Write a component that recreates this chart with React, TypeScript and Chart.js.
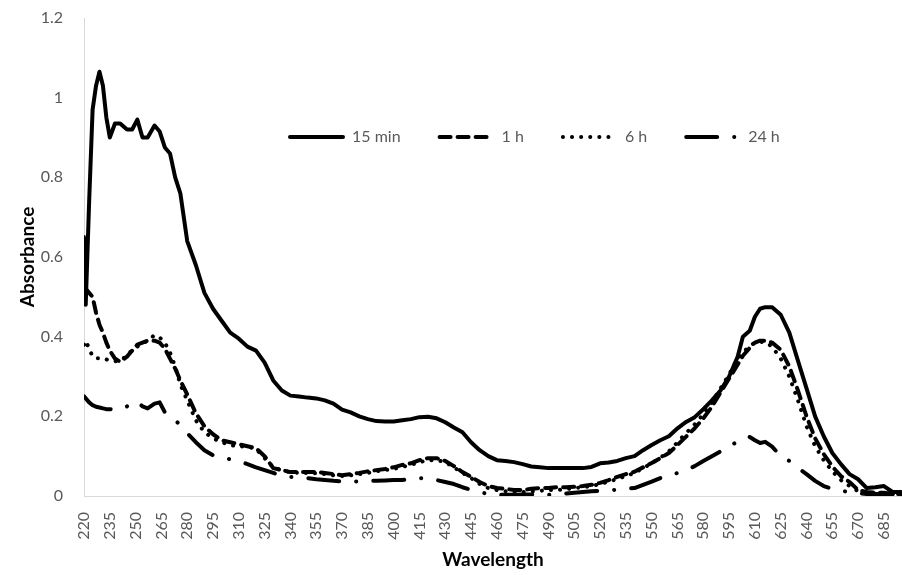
import React, { useEffect, useRef } from 'react';
import { Chart, registerables } from 'chart.js';

Chart.register(...registerables);

// Wavelength (nm) sample points
const wavelengths = [
  220, 221, 223, 225, 227, 229, 231, 233, 235, 238,
  241, 245, 248, 251, 254, 257, 261, 264, 267, 270,
  273, 276, 280, 285, 290, 295, 300, 305, 310, 315,
  320, 325, 330, 335, 340, 345, 350, 355, 360, 365,
  370, 375, 380, 385, 390, 395, 400, 405, 410, 415,
  420, 425, 430, 435, 440, 445, 450, 455, 460, 465,
  470, 475, 480, 485, 490, 495, 500, 505, 510, 515,
  520, 525, 530, 535, 540, 545, 550, 555, 560, 565,
  570, 575, 580, 585, 590, 595, 600, 603, 607, 610,
  613, 616, 620, 625, 630, 635, 640, 645, 650, 655,
  660, 665, 670, 675, 680, 685, 690, 695,
];

const abs15min = [
  0.65, 0.48, 0.74, 0.97, 1.03, 1.065, 1.03, 0.95, 0.90, 0.935,
  0.935, 0.92, 0.92, 0.945, 0.90, 0.90, 0.93, 0.915, 0.875, 0.86,
  0.80, 0.76, 0.64, 0.58, 0.51, 0.47, 0.44, 0.41, 0.395, 0.375,
  0.365, 0.335, 0.29, 0.265, 0.252, 0.25, 0.247, 0.245, 0.24, 0.232,
  0.217, 0.21, 0.20, 0.193, 0.188, 0.187, 0.187, 0.19, 0.193, 0.198,
  0.199, 0.195, 0.185, 0.172, 0.16, 0.135, 0.115, 0.10, 0.09, 0.088,
  0.085, 0.08, 0.074, 0.072, 0.07, 0.07, 0.07, 0.07, 0.07, 0.073,
  0.082, 0.084, 0.088, 0.095, 0.10, 0.115, 0.128, 0.14, 0.15, 0.17,
  0.186, 0.198, 0.218, 0.24, 0.265, 0.30, 0.35, 0.40, 0.415, 0.45,
  0.47, 0.474, 0.474, 0.455, 0.41, 0.34, 0.27, 0.20, 0.15, 0.108,
  0.08, 0.055, 0.042, 0.02, 0.022, 0.025, 0.01, 0.01,
];

const abs1h = [
  0.57, 0.52, 0.51, 0.50, 0.46, 0.43, 0.41, 0.385, 0.365, 0.345,
  0.337, 0.35, 0.365, 0.38, 0.385, 0.39, 0.39, 0.385, 0.37, 0.345,
  0.32, 0.29, 0.255, 0.208, 0.175, 0.155, 0.14, 0.135, 0.13, 0.125,
  0.12, 0.10, 0.07, 0.065, 0.06, 0.06, 0.06, 0.06, 0.058, 0.055,
  0.052, 0.055, 0.058, 0.062, 0.065, 0.068, 0.072, 0.078, 0.082, 0.09,
  0.095, 0.095, 0.088, 0.075, 0.06, 0.048, 0.035, 0.025, 0.02, 0.018,
  0.015, 0.015, 0.018, 0.02, 0.02, 0.022, 0.022, 0.023, 0.025, 0.028,
  0.033, 0.04, 0.048, 0.055, 0.061, 0.072, 0.083, 0.095, 0.108, 0.128,
  0.149, 0.17, 0.195, 0.224, 0.26, 0.295, 0.33, 0.352, 0.372, 0.385,
  0.39, 0.39, 0.385, 0.367, 0.325, 0.265, 0.20, 0.145, 0.105, 0.074,
  0.05, 0.035, 0.015, 0.01, 0.008, 0.008, 0.005, 0.005,
];

const abs6h = [
  0.38, 0.39, 0.37, 0.35, 0.346, 0.346, 0.346, 0.343, 0.34, 0.338,
  0.34, 0.352, 0.367, 0.375, 0.383, 0.39, 0.404, 0.398, 0.385, 0.36,
  0.325, 0.28, 0.24, 0.19, 0.16, 0.145, 0.135, 0.128, 0.124, 0.124,
  0.118, 0.095, 0.072, 0.064, 0.06, 0.058, 0.058, 0.057, 0.055, 0.052,
  0.05, 0.052, 0.055, 0.058, 0.062, 0.065, 0.068, 0.073, 0.078, 0.085,
  0.09, 0.09, 0.085, 0.072, 0.058, 0.045, 0.03, 0.02, 0.015, 0.012,
  0.01, 0.01, 0.012, 0.013, 0.015, 0.015, 0.017, 0.02, 0.022, 0.025,
  0.03, 0.036, 0.043, 0.05, 0.058, 0.07, 0.082, 0.096, 0.112, 0.135,
  0.158, 0.18, 0.205, 0.235, 0.27, 0.305, 0.345, 0.36, 0.377, 0.385,
  0.387, 0.386, 0.375, 0.345, 0.30, 0.24, 0.175, 0.125, 0.09, 0.062,
  0.04, 0.025, 0.012, 0.008, 0.006, 0.006, 0.005, 0.005,
];

const abs24h = [
  0.25, 0.245, 0.235, 0.228, 0.224, 0.222, 0.22, 0.218, 0.218, 0.216,
  0.218, 0.225, 0.232, 0.237, 0.225, 0.22, 0.232, 0.235, 0.21, 0.20,
  0.19, 0.178, 0.158, 0.135, 0.115, 0.102, 0.097, 0.092, 0.088, 0.08,
  0.072, 0.065, 0.058, 0.05, 0.048, 0.046, 0.045, 0.042, 0.04, 0.038,
  0.037, 0.036, 0.037, 0.038, 0.038, 0.039, 0.04, 0.04, 0.043, 0.045,
  0.043, 0.04, 0.035, 0.03, 0.022, 0.015, 0.01, 0.005, 0.003, 0.003,
  0.003, 0.004, 0.004, 0.003, 0.003, 0.004, 0.006, 0.008, 0.01, 0.012,
  0.013, 0.014, 0.016, 0.018, 0.02, 0.028, 0.036, 0.045, 0.05, 0.058,
  0.065, 0.075, 0.088, 0.10, 0.112, 0.124, 0.137, 0.146, 0.148, 0.14,
  0.133, 0.136, 0.124, 0.10, 0.088, 0.07, 0.055, 0.038, 0.025, 0.018,
  0.013, 0.01, 0.007, 0.005, 0.005, 0.005, 0.005, 0.005,
];

const seriesLabels = ['15 min', '1 h', '6 h', '24 h'];

const xTickLabels = [
  220, 235, 250, 265, 280, 295, 310, 325, 340, 355, 370, 385, 400, 415, 430, 445,
  460, 475, 490, 505, 520, 535, 550, 565, 580, 595, 610, 625, 640, 655, 670, 685,
];

const yTickLabels = [0, 0.2, 0.4, 0.6, 0.8, 1, 1.2];

const FONT = 'Lato';
const GREY = '#595959';

const inlineLegend = {
  id: 'inlineLegend',
  afterDatasetsDraw(chart: any) {
    const ctx = chart.ctx;
    ctx.save();
    ctx.font = `16px ${FONT}`;
    ctx.textBaseline = 'middle';
    ctx.textAlign = 'left';
    let x = 288;
    const y = 137;
    chart.data.datasets.forEach((ds: any) => {
      ctx.beginPath();
      ctx.setLineDash(ds.borderDash || []);
      ctx.lineWidth = ds.borderWidth;
      ctx.lineCap = 'round';
      ctx.strokeStyle = ds.borderColor;
      ctx.moveTo(x + 2, y);
      ctx.lineTo(x + 55, y);
      ctx.stroke();
      ctx.setLineDash([]);
      ctx.fillStyle = GREY;
      ctx.fillText(ds.label, x + 64, y);
      x += 64 + ctx.measureText(ds.label).width + 37;
    });
    ctx.restore();
  },
};

function toPoints(values: number[]) {
  return wavelengths.map((w, i) => ({ x: w, y: values[i] }));
}

export default function App() {
  const canvasRef = useRef<HTMLCanvasElement | null>(null);

  useEffect(() => {
    if (!canvasRef.current) return;
    const common = {
      borderColor: '#000000',
      backgroundColor: '#000000',
      borderWidth: 4,
      pointRadius: 0,
      tension: 0,
      fill: false,
      borderCapStyle: 'round',
      borderJoinStyle: 'round',
    };
    const chart = new Chart(canvasRef.current, {
      type: 'line',
      data: {
        datasets: [
          { ...common, label: seriesLabels[0], data: toPoints(abs15min), borderDash: [] },
          { ...common, label: seriesLabels[1], data: toPoints(abs1h), borderDash: [11, 7] },
          { ...common, label: seriesLabels[2], data: toPoints(abs6h), borderDash: [0.1, 9] },
          { ...common, label: seriesLabels[3], data: toPoints(abs24h), borderDash: [31, 17, 0.1, 17] },
        ] as any,
      },
      options: {
        animation: false,
        responsive: true,
        maintainAspectRatio: false,
        devicePixelRatio: 1,
        layout: { padding: { top: 18, right: 0, bottom: 0, left: 0 } },
        plugins: {
          legend: { display: false },
          tooltip: { enabled: false },
        },
        scales: {
          x: {
            type: 'linear',
            min: 220,
            max: 695.5,
            grid: { display: false, drawTicks: false },
            border: { display: true, color: '#d9d9d9', width: 1 },
            afterBuildTicks: (s: any) => {
              s.ticks = xTickLabels.map((v) => ({ value: v }));
            },
            afterFit: (s: any) => {
              s.height = 79;
              s.paddingLeft = 0;
              s.paddingRight = 0;
            },
            ticks: {
              autoSkip: false,
              minRotation: 90,
              maxRotation: 90,
              padding: 16,
              color: GREY,
              font: { family: FONT, size: 16 },
              callback: (v: any) => String(v),
            },
            title: {
              display: true,
              text: 'Wavelength',
              color: '#000000',
              font: { family: FONT, size: 19, weight: 'bold' },
              padding: { top: 0, bottom: 4 },
            },
          },
          y: {
            type: 'linear',
            min: 0,
            max: 1.2,
            grid: { display: false, drawTicks: false },
            border: { display: true, color: '#d9d9d9', width: 1 },
            afterBuildTicks: (s: any) => {
              s.ticks = yTickLabels.map((v) => ({ value: v }));
            },
            afterFit: (s: any) => {
              s.width = 84;
              s.paddingTop = 0;
              s.paddingBottom = 0;
            },
            ticks: {
              padding: 21,
              color: GREY,
              font: { family: FONT, size: 16 },
              callback: (v: any) => String(v),
            },
            title: {
              display: true,
              text: 'Absorbance',
              color: '#000000',
              font: { family: FONT, size: 19, weight: 'bold' },
              padding: { top: 16, bottom: 0 },
            },
          },
        },
      } as any,
      plugins: [inlineLegend],
    });
    return () => chart.destroy();
  }, []);

  return (
    <div
      style={{
        position: 'fixed',
        left: 0,
        top: 0,
        width: 902,
        height: 575,
        background: '#ffffff',
      }}
    >
      <canvas ref={canvasRef} />
    </div>
  );
}
